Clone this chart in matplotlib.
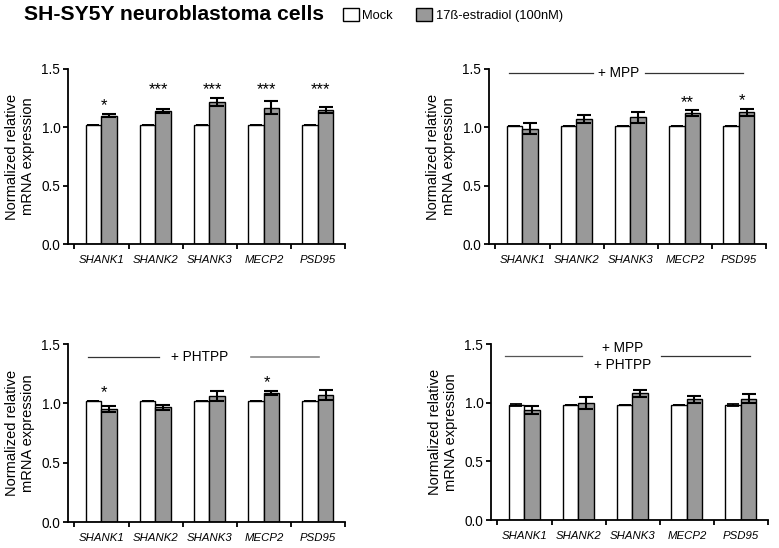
import numpy as np
import matplotlib.pyplot as plt
from matplotlib.patches import Patch

plt.rcParams['font.family'] = ['Liberation Sans', 'DejaVu Sans']

genes = ['SHANK1', 'SHANK2', 'SHANK3', 'MECP2', 'PSD95']

# panel A: untreated
a_mock = [1.02, 1.02, 1.02, 1.02, 1.02]
a_mock_err = [0.0, 0.0, 0.0, 0.0, 0.0]
a_e2 = [1.10, 1.14, 1.22, 1.17, 1.15]
a_e2_err = [0.015, 0.02, 0.035, 0.055, 0.025]
a_stars = ['*', '***', '***', '***', '***']

# panel B: + MPP
b_mock = [1.01, 1.01, 1.01, 1.01, 1.01]
b_mock_err = [0.0, 0.0, 0.0, 0.0, 0.0]
b_e2 = [0.99, 1.075, 1.085, 1.12, 1.13]
b_e2_err = [0.045, 0.035, 0.05, 0.025, 0.03]
b_stars = ['', '', '', '**', '*']

# panel C: + PHTPP
c_mock = [1.02, 1.02, 1.02, 1.02, 1.02]
c_mock_err = [0.0, 0.0, 0.0, 0.0, 0.0]
c_e2 = [0.95, 0.965, 1.06, 1.085, 1.07]
c_e2_err = [0.025, 0.018, 0.04, 0.018, 0.04]
c_stars = ['*', '', '', '*', '']

# panel D: + MPP + PHTPP
d_mock = [0.98, 0.98, 0.98, 0.98, 0.98]
d_mock_err = [0.01, 0.0, 0.0, 0.0, 0.01]
d_e2 = [0.94, 1.0, 1.08, 1.03, 1.035]
d_e2_err = [0.035, 0.05, 0.03, 0.03, 0.04]
d_stars = ['', '', '', '', '']

GRAY = '#999999'
W = 779
H = 548

fig = plt.figure(figsize=(7.79, 5.48), dpi=100)


def panel(rect, mock, mock_err, e2, e2_err, stars, align=False):
    ax = fig.add_axes(rect)
    x = np.arange(len(genes))
    bw = 0.29
    ax.bar(x - 0.15, mock, bw, color='white', edgecolor='black', linewidth=1,
           yerr=mock_err, capsize=4, error_kw=dict(elinewidth=1.3, capthick=1.3))
    ax.bar(x + 0.14, e2, bw, color=GRAY, edgecolor='black', linewidth=1,
           yerr=e2_err, capsize=5, error_kw=dict(elinewidth=1.5, capthick=1.5))
    tops = np.maximum(np.array(mock), np.array(e2) + np.array(e2_err))
    for i, s in enumerate(stars):
        if not s:
            continue
        y = tops[i]
        if align:
            # same significance level -> same height
            y = max(t for t, ss in zip(tops, stars) if ss == s)
        ax.text(x[i] + 0.05, y + 0.07, s, ha='center', va='center', fontsize=12)
    ax.set_xlim(-0.62, 4.45)
    ax.set_ylim(0, 1.5)
    ax.set_yticks([0, 0.5, 1.0, 1.5])
    ax.set_yticklabels(['0.0', '0.5', '1.0', '1.5'], fontsize=9.8)
    ax.set_xticks(x)
    ax.set_xticklabels(genes, fontsize=8.2, style='italic')
    ax.tick_params(axis='x', which='major', length=0, pad=8)
    ax.set_xticks(np.arange(-0.5, 5.0, 1.0), minor=True)
    ax.tick_params(axis='x', which='minor', length=3.5, width=1.3)
    ax.tick_params(axis='y', length=3.5, width=1.3, pad=2)
    for sp in ['top', 'right']:
        ax.spines[sp].set_visible(False)
    for sp in ['left', 'bottom']:
        ax.spines[sp].set_linewidth(1.3)
    ax.set_ylabel('Normalized relative\nmRNA expression', fontsize=10.5,
                  linespacing=1.1, labelpad=5)
    return ax


ax1 = panel([68 / W, 1 - 244 / H, 277 / W, 175 / H], a_mock, a_mock_err, a_e2, a_e2_err, a_stars, align=True)
ax2 = panel([489 / W, 1 - 244 / H, 277 / W, 175 / H], b_mock, b_mock_err, b_e2, b_e2_err, b_stars)
ax3 = panel([68 / W, 1 - 522 / H, 277 / W, 178 / H], c_mock, c_mock_err, c_e2, c_e2_err, c_stars)
ax4 = panel([491 / W, 1 - 520 / H, 277 / W, 176 / H], d_mock, d_mock_err, d_e2, d_e2_err, d_stars)

# treatment bars
ax2.plot([-0.25, 1.30], [1.463, 1.463], color='#333333', lw=0.9, clip_on=False)
ax2.plot([2.27, 4.08], [1.463, 1.463], color='#333333', lw=0.9, clip_on=False)
ax2.text(1.78, 1.463, '+ MPP', ha='center', va='center', fontsize=9.8)

ax3.plot([-0.25, 1.06], [1.39, 1.39], color='#333333', lw=0.9, clip_on=False)
ax3.plot([2.77, 4.02], [1.39, 1.39], color='#888888', lw=1.2, clip_on=False)
ax3.text(1.82, 1.39, '+ PHTPP', ha='center', va='center', fontsize=9.8)

ax4.plot([-0.37, 1.07], [1.40, 1.40], color='#555555', lw=0.9, clip_on=False)
ax4.plot([2.53, 4.17], [1.40, 1.40], color='#333333', lw=0.9, clip_on=False)
ax4.text(1.82, 1.47, '+ MPP', ha='center', va='center', fontsize=9.8)
ax4.text(1.82, 1.32, '+ PHTPP', ha='center', va='center', fontsize=9.8)

fig.text(24 / W, 1 - 14 / H, 'SH-SY5Y neuroblastoma cells', fontsize=15.2,
         fontweight='bold', ha='left', va='center')
handles = [Patch(facecolor='white', edgecolor='black', linewidth=1),
           Patch(facecolor=GRAY, edgecolor='black', linewidth=1)]
fig.legend(handles, ['Mock', '17ß-estradiol (100nM)'], ncol=2, frameon=False,
           loc='center left', bbox_to_anchor=(343 / W, 1 - 15 / H), fontsize=9.3,
           handlelength=1.2, handleheight=1.2, handletextpad=0.3, columnspacing=1.8,
           borderaxespad=0, borderpad=0)

plt.savefig('out.png', dpi=100)
